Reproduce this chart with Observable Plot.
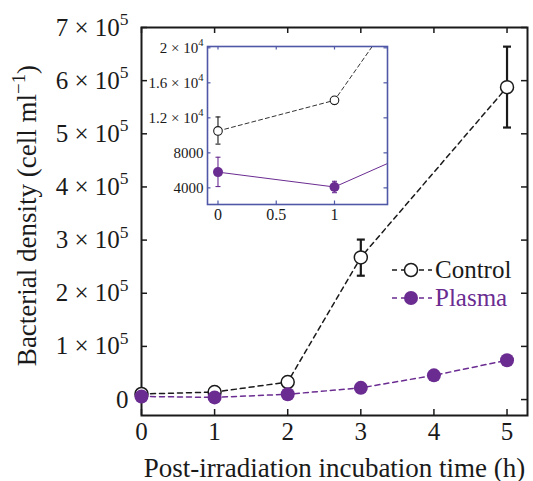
<!DOCTYPE html>
<html>
<head>
<meta charset="utf-8">
<script src="https://cdn.jsdelivr.net/npm/d3@7"></script>
<script src="https://cdn.jsdelivr.net/npm/@observablehq/plot@0.6"></script>
<style>
  body { margin: 0; background: #fff; }
  #wrap { position: relative; width: 533px; height: 481px; font-family: "Liberation Serif", "Times New Roman", serif; color: #1a1a1a; }
  #wrap > svg { position: absolute; }
  .legend-row { position: absolute; height: 28px; display: flex; align-items: center; font-size: 25px; line-height: 28px; }
  .legend-row svg { display: block; margin-right: 3px; }
</style>
</head>
<body>
<div id="wrap"></div>
<script>
// Bacterial density after irradiation (cell/ml)
const controlHours = [0, 1, 2, 3, 5];
const controlMean  = [10500, 14000, 33000, 267500, 587800];
const controlLow   = [9000, 13600, 31500, 233000, 511800];
const controlHigh  = [12100, 14400, 34500, 301000, 664000];

const plasmaHours = [0, 1, 2, 3, 4, 5];
const plasmaMean  = [5800, 4100, 10000, 22000, 45500, 74000];
const plasmaLow   = [4150, 3450, 9300, 21000, 44000, 72000];
const plasmaHigh  = [7500, 4750, 10700, 23000, 47000, 76000];

const xTicks = [0, 1, 2, 3, 4, 5];
const xTickLabels = ["0", "1", "2", "3", "4", "5"];
const yTicks = [0, 1e5, 2e5, 3e5, 4e5, 5e5, 6e5, 7e5];
const yTickLabels = ["0", "1 × 10^5", "2 × 10^5", "3 × 10^5", "4 × 10^5", "5 × 10^5", "6 × 10^5", "7 × 10^5"];

const insetXTicks = [0, 0.5, 1];
const insetXTickLabels = ["0", "0.5", "1"];
const insetYTicks = [4000, 8000, 12000, 16000, 20000];
const insetYTickLabels = ["4000", "8000", "1.2 × 10^4", "1.6 × 10^4", "2 × 10^4"];

const xTitle = "Post-irradiation incubation time (h)";
const yTitle = "Bacterial density (cell ml^−1^)";
const seriesNames = ["Control", "Plasma"];

const ink = "#1a1a1a";
const purple = "#6a2c91";
const insetBlue = "#4e58a6";

const control = controlHours.map((h, i) => ({h, v: controlMean[i], lo: controlLow[i], hi: controlHigh[i]}));
const plasma = plasmaHours.map((h, i) => ({h, v: plasmaMean[i], lo: plasmaLow[i], hi: plasmaHigh[i]}));

// short horizontal stroke used as an error-bar cap
const cap = (half) => ({draw(ctx) { ctx.moveTo(-half, 0); ctx.lineTo(half, 0); }});

// turn "a^b^c" into tspans with raised parts
function superscript(textEl) {
  const s = textEl.textContent;
  if (!s.includes("^")) return;
  const px = parseFloat(getComputedStyle(textEl).fontSize) || 16;
  const parts = s.split("^");
  textEl.textContent = "";
  let raised = false;
  parts.forEach((p, k) => {
    const up = k % 2 === 1;
    const t = document.createElementNS("http://www.w3.org/2000/svg", "tspan");
    if (up && !raised) { t.setAttribute("dy", -0.42 * px); t.setAttribute("font-size", 0.7 * px); raised = true; }
    else if (!up && raised) { t.setAttribute("dy", 0.42 * px); raised = false; }
    t.textContent = p;
    if (p.length) textEl.appendChild(t);
  });
}

// main chart
const W = 533, H = 481, mL = 141, mR = 6, mT = 27, mB = 66;
const FW = W - mL - mR, FH = H - mT - mB;
const tick = 6;

const main = Plot.plot({
  width: W, height: H,
  marginLeft: mL, marginRight: mR, marginTop: mT, marginBottom: mB,
  style: {fontFamily: "'Liberation Serif', 'Times New Roman', serif", fontSize: "25px", color: ink, background: "transparent", overflow: "visible"},
  x: {domain: [0, 5.28], label: null},
  y: {domain: [-30000, 700000], label: null},
  marks: [
    Plot.frame({stroke: ink, strokeWidth: 2}),
    Plot.tickX(xTicks, {x: d => d, insetTop: FH - tick, stroke: ink, strokeWidth: 1.5}),
    Plot.tickX(xTicks, {x: d => d, insetBottom: FH - tick, stroke: ink, strokeWidth: 1.5}),
    Plot.tickY(yTicks, {y: d => d, insetRight: FW - tick, stroke: ink, strokeWidth: 1.5}),
    Plot.tickY(yTicks, {y: d => d, insetLeft: FW - tick, stroke: ink, strokeWidth: 1.5}),
    Plot.axisX({ticks: xTicks, tickSize: 0, tickPadding: 7, tickFormat: d => xTickLabels[xTicks.indexOf(d)], fontSize: 25, fill: ink, label: null}),
    Plot.axisY({ticks: yTicks, tickSize: 0, tickPadding: 13, tickFormat: d => yTickLabels[yTicks.indexOf(d)], fontSize: 25, fill: ink, label: null}),
    Plot.text([xTitle], {text: d => d, frameAnchor: "bottom", lineAnchor: "bottom", dy: 61, fontSize: 27, fill: ink}),
    Plot.text([yTitle], {text: d => d, frameAnchor: "left", textAnchor: "middle", rotate: -90, dx: -114, dy: -6, fontSize: 27, fill: ink}),
    // control series
    Plot.line(control, {x: "h", y: "v", stroke: ink, strokeWidth: 1.5, strokeDasharray: "5,4"}),
    Plot.ruleX(control, {x: "h", y1: "lo", y2: "hi", stroke: ink, strokeWidth: 2.2}),
    Plot.dot(control, {x: "h", y: "lo", symbol: cap(4), stroke: ink, strokeWidth: 2.2}),
    Plot.dot(control, {x: "h", y: "hi", symbol: cap(4), stroke: ink, strokeWidth: 2.2}),
    Plot.dot(control, {x: "h", y: "v", r: 6.5, fill: "white", stroke: ink, strokeWidth: 1.5}),
    // plasma series
    Plot.line(plasma, {x: "h", y: "v", stroke: purple, strokeWidth: 1.5, strokeDasharray: "5,4"}),
    Plot.dot(plasma, {x: "h", y: "v", r: 7, fill: purple})
  ]
});
document.getElementById("wrap").appendChild(main);
main.style.left = "0px"; main.style.top = "0px";
d3.select(main).selectAll("text").each(function() { superscript(this); });

// inset: first hour close-up
const iW = 240, iH = 200, iL = 57, iR = 3, iT = 16, iB = 26;
const iFW = iW - iL - iR, iFH = iH - iT - iB;
const iTick = 3.5;
const inset = Plot.plot({
  width: iW, height: iH,
  marginLeft: iL, marginRight: iR, marginTop: iT, marginBottom: iB,
  style: {fontFamily: "'Liberation Serif', 'Times New Roman', serif", fontSize: "15px", color: ink, background: "transparent", overflow: "visible"},
  x: {domain: [-0.09, 1.455], label: null},
  y: {domain: [2100, 20150], label: null},
  marks: [
    Plot.frame({fill: "white"}),
    Plot.tickX(insetXTicks, {x: d => d, insetTop: iFH - iTick, stroke: insetBlue, strokeWidth: 1.2}),
    Plot.tickX(insetXTicks, {x: d => d, insetBottom: iFH - iTick, stroke: insetBlue, strokeWidth: 1.2}),
    Plot.tickY(insetYTicks, {y: d => d, insetRight: iFW - iTick, stroke: insetBlue, strokeWidth: 1.2}),
    Plot.tickY(insetYTicks, {y: d => d, insetLeft: iFW - iTick, stroke: insetBlue, strokeWidth: 1.2}),
    Plot.axisX({ticks: insetXTicks, tickSize: 0, tickPadding: 4, tickFormat: d => insetXTickLabels[insetXTicks.indexOf(d)], fontSize: 16, fill: ink, label: null}),
    Plot.axisY({ticks: insetYTicks, tickSize: 0, tickPadding: 4, tickFormat: d => insetYTickLabels[insetYTicks.indexOf(d)], fontSize: 15, fill: ink, label: null}),
    Plot.line(control, {x: "h", y: "v", stroke: "#333", strokeWidth: 1, strokeDasharray: "4,3", clip: true}),
    Plot.ruleX(control, {x: "h", y1: "lo", y2: "hi", stroke: ink, strokeWidth: 1.1, clip: true}),
    Plot.dot(control, {x: "h", y: "lo", symbol: cap(2.5), stroke: ink, strokeWidth: 1.1, clip: true}),
    Plot.dot(control, {x: "h", y: "hi", symbol: cap(2.5), stroke: ink, strokeWidth: 1.1, clip: true}),
    Plot.dot(control, {x: "h", y: "v", r: 4.3, fill: "white", stroke: ink, strokeWidth: 1.1, clip: true}),
    Plot.line(plasma, {x: "h", y: "v", stroke: purple, strokeWidth: 1, clip: true}),
    Plot.ruleX(plasma, {x: "h", y1: "lo", y2: "hi", stroke: purple, strokeWidth: 1.1, clip: true}),
    Plot.dot(plasma, {x: "h", y: "lo", symbol: cap(2.5), stroke: purple, strokeWidth: 1.1, clip: true}),
    Plot.dot(plasma, {x: "h", y: "hi", symbol: cap(2.5), stroke: purple, strokeWidth: 1.1, clip: true}),
    Plot.dot(plasma, {x: "h", y: "v", r: 5, fill: purple, clip: true}),
    Plot.frame({stroke: insetBlue, strokeWidth: 1.6})
  ]
});
document.getElementById("wrap").appendChild(inset);
inset.style.left = "150px"; inset.style.top = "30px";
d3.select(inset).selectAll("text").each(function() { superscript(this); });

// legend
const legend = [
  {name: seriesNames[0], text: ink, stroke: ink, fill: "white", top: 256},
  {name: seriesNames[1], text: purple, stroke: purple, fill: purple, top: 284}
];
legend.forEach(item => {
  const row = d3.select("#wrap").append("div").attr("class", "legend-row")
    .style("left", "392px").style("top", item.top + "px").style("color", item.text);
  const s = row.append("svg").attr("width", 40).attr("height", 28);
  s.append("line").attr("x1", 0).attr("x2", 40).attr("y1", 14).attr("y2", 14)
    .attr("stroke", item.stroke).attr("stroke-width", 1.5).attr("stroke-dasharray", "5,4");
  s.append("circle").attr("cx", 19).attr("cy", 14).attr("r", item.fill === "white" ? 6.5 : 7)
    .attr("fill", item.fill).attr("stroke", item.fill === "white" ? item.stroke : "none").attr("stroke-width", 1.5);
  row.append("span").text(item.name);
});
</script>
</body>
</html>
